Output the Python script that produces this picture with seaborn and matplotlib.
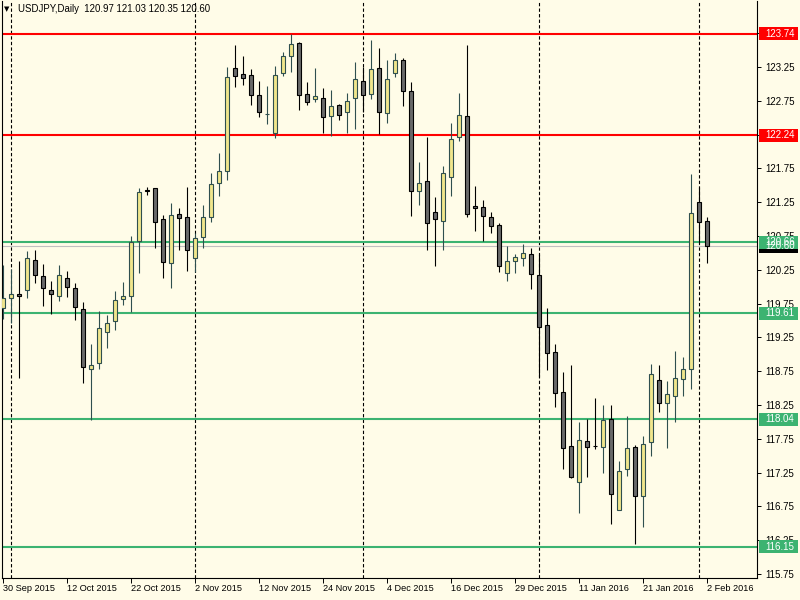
import pandas as pd
import matplotlib.pyplot as plt
import matplotlib.transforms as mtransforms
from matplotlib.patches import Rectangle
import seaborn as sns

# USDJPY daily candles (bar 0 = 30 Sep 2015)
opens = [119.68, 119.83, 119.89, 119.95, 120.39, 120.16, 119.95, 119.87, 120.13, 119.98,
         119.67, 118.79, 118.87, 119.33, 119.49, 119.82, 119.87, 120.67, 121.43, 121.46,
         121.00, 120.35, 121.07, 121.03, 120.43, 120.73, 121.03, 121.53, 121.72, 123.23,
         123.15, 123.13, 122.83, 122.55, 122.27, 123.16, 123.42, 123.60, 122.85, 122.78,
         122.80, 122.53, 122.69, 122.59, 122.79, 123.04, 122.85, 123.23, 122.57, 123.17,
         123.35, 122.90, 121.42, 121.56, 121.10, 120.98, 121.62, 122.21, 122.52, 121.19,
         121.18, 121.03, 120.91, 120.20, 120.38, 120.42, 120.48, 120.17, 119.43, 119.03,
         118.45, 117.64, 117.11, 117.72, 117.65, 117.63, 118.04, 116.69, 117.31, 117.63,
         116.91, 117.71, 118.62, 118.28, 118.39, 118.64, 118.78, 121.25, 120.97]
highs = [120.32, 120.26, 120.38, 120.53, 120.54, 120.34, 120.08, 120.32, 120.24, 120.05,
         119.78, 119.15, 119.64, 119.58, 119.94, 120.07, 120.75, 121.46, 121.47, 121.46,
         121.06, 121.24, 121.16, 121.47, 120.79, 121.21, 121.69, 121.98, 123.25, 123.58,
         123.41, 123.22, 123.04, 122.97, 123.26, 123.48, 123.74, 123.62, 123.03, 123.23,
         122.94, 122.91, 122.71, 122.87, 123.33, 123.25, 123.65, 123.54, 123.36, 123.46,
         123.38, 123.03, 121.84, 122.22, 121.33, 121.78, 122.42, 122.86, 123.57, 121.49,
         121.28, 121.11, 120.95, 120.60, 120.49, 120.63, 120.57, 120.49, 119.69, 119.15,
         118.74, 118.84, 118.00, 118.04, 118.35, 118.25, 118.25, 117.42, 118.09, 117.66,
         117.79, 118.86, 118.84, 118.61, 119.05, 118.96, 121.67, 121.48, 121.03]
lows = [119.53, 119.47, 118.65, 119.83, 120.06, 119.71, 119.59, 119.79, 119.85, 119.51,
        118.58, 118.03, 118.79, 119.10, 119.36, 119.73, 119.63, 120.20, 121.36, 120.58,
        120.13, 119.98, 120.54, 120.24, 120.22, 120.57, 120.96, 121.35, 121.58, 122.95,
        122.99, 122.69, 122.51, 122.41, 122.20, 123.12, 123.18, 122.61, 122.69, 122.74,
        122.27, 122.23, 122.46, 122.27, 122.33, 122.58, 122.78, 122.26, 122.43, 123.11,
        122.67, 121.05, 121.21, 120.54, 120.31, 120.55, 121.35, 122.16, 121.03, 120.82,
        120.68, 120.79, 120.22, 120.09, 120.21, 120.31, 119.97, 118.67, 118.77, 118.22,
        117.30, 117.17, 116.66, 117.19, 117.60, 117.25, 116.49, 116.69, 117.20, 116.19,
        116.44, 117.50, 118.14, 117.62, 118.00, 118.39, 118.49, 120.65, 120.35]
closes = [119.84, 119.89, 119.86, 120.42, 120.17, 119.98, 119.90, 120.17, 119.99, 119.70,
          118.81, 118.84, 119.39, 119.46, 119.80, 119.86, 120.66, 121.40, 121.42, 120.96,
          120.36, 121.06, 121.01, 120.55, 120.72, 121.03, 121.52, 121.71, 123.10, 123.12,
          123.09, 122.83, 122.58, 122.56, 123.13, 123.41, 123.59, 122.83, 122.74, 122.82,
          122.51, 122.67, 122.54, 122.75, 123.07, 122.83, 123.22, 122.58, 123.07, 123.35,
          122.90, 121.41, 121.53, 120.94, 121.00, 121.68, 122.19, 122.54, 121.07, 121.16,
          121.04, 120.90, 120.31, 120.38, 120.44, 120.50, 120.19, 119.41, 119.02, 118.43,
          117.62, 117.18, 117.73, 117.63, 117.64, 118.03, 116.94, 117.28, 117.61, 116.91,
          117.68, 118.71, 118.28, 118.41, 118.65, 118.79, 121.09, 120.96, 120.60]

date_labels = ["30 Sep 2015", "12 Oct 2015", "22 Oct 2015", "2 Nov 2015", "12 Nov 2015",
               "24 Nov 2015", "4 Dec 2015", "16 Dec 2015", "29 Dec 2015", "11 Jan 2016",
               "21 Jan 2016", "2 Feb 2016"]
date_positions = [0, 8, 16, 24, 32, 40, 48, 56, 64, 72, 80, 88]
month_starts = [1, 24, 45, 67, 87]

y_ticks = [115.75, 116.25, 116.75, 117.25, 117.75, 118.25, 118.75, 119.25, 119.75,
           120.25, 120.75, 121.25, 121.75, 122.25, 122.75, 123.25, 123.75]
red_levels = [123.74, 122.24]
green_levels = [120.66, 119.61, 118.04, 116.15]
bid_price = 120.60
title_text = "USDJPY,Daily  120.97 121.03 120.35 120.60"

BG = "#FFFCE8"
BULL_FILL, BULL_EDGE = "#F0E68C", "#2F4F4F"
BEAR_FILL, BEAR_EDGE = "#696969", "#000000"
RED, GREEN = "#FF0000", "#3CB371"

df = pd.DataFrame({"open": opens, "high": highs, "low": lows, "close": closes})
df["bar"] = range(len(df))
df["up"] = df["close"] > df["open"]

sns.set_theme(style="white")
plt.rcParams['font.family'] = ['Liberation Sans', 'DejaVu Sans']

fig = plt.figure(figsize=(8, 6), dpi=100, facecolor=BG)
ax = fig.add_axes([2 / 800, 22 / 600, 755 / 800, 577 / 600], facecolor=BG)

# month separators
for m in month_starts:
    ax.axvline(m, color="black", linewidth=0.8, linestyle=(0, (3, 2)), zorder=1)

# support / resistance lines
for lv in red_levels:
    ax.axhline(lv, color=RED, linewidth=1.5, zorder=2)
for lv in green_levels:
    ax.axhline(lv, color=GREEN, linewidth=1.5, zorder=2)
ax.axhline(bid_price, color="#C0C0C0", linewidth=0.8, zorder=2)

# candles
for up, grp in df.groupby("up"):
    edge = BULL_EDGE if up else BEAR_EDGE
    fill = BULL_FILL if up else BEAR_FILL
    ax.vlines(grp["bar"], grp["low"], grp["high"], colors=edge, linewidth=0.8, zorder=3)
    body_lo = grp[["open", "close"]].min(axis=1)
    body_h = (grp["close"] - grp["open"]).abs()
    ax.bar(grp["bar"], body_h, bottom=body_lo, width=0.5, color=fill,
           edgecolor=edge, linewidth=0.8, zorder=4)

ax.set_xlim(-0.1625, 94.21)
ax.set_ylim(115.691, 124.228)

ax.yaxis.tick_right()
ax.set_yticks(y_ticks)
ax.set_yticklabels([f"{t:.2f}" for t in y_ticks])
ax.tick_params(axis="y", direction="out", length=3, width=0.7, pad=3,
               labelsize=7, colors="black", right=True, left=False)
ax.set_xticks(date_positions)
ax.set_xticklabels(date_labels, ha="left")
ax.tick_params(axis="x", direction="out", length=3.5, width=0.7, pad=1,
               labelsize=6.6, colors="black", bottom=True)
for lab in ax.get_xticklabels():
    lab.set_horizontalalignment("left")

for side in ["left", "right", "bottom"]:
    ax.spines[side].set_color("black")
    ax.spines[side].set_linewidth(0.8)
ax.spines["top"].set_visible(False)
ax.grid(False)

# price labels on the right scale
trans = mtransforms.blended_transform_factory(ax.transAxes, ax.transData)
box_h = 13 / 67.59
x0 = (759 - 2) / 755
box_w = 39 / 755


def price_tag(price, color):
    ax.add_patch(Rectangle((x0, price - box_h / 2), box_w, box_h, transform=trans,
                           facecolor=color, edgecolor="none", clip_on=False, zorder=10))
    ax.text((765 - 2) / 755, price, f"{price:.2f}", transform=trans, color="white",
            fontsize=7, ha="left", va="center", clip_on=False, zorder=11)


price_tag(bid_price, "black")
for lv in red_levels:
    price_tag(lv, RED)
for lv in green_levels:
    price_tag(lv, GREEN)

fig.text(4 / 800, 1 - 9 / 600, "\u25bc", fontsize=5, color="black", va="center", ha="left",
         family=["DejaVu Sans"])
fig.text(18 / 800, 1 - 9 / 600, title_text, fontsize=6.9, color="black", va="center", ha="left")

fig.savefig("out.png", dpi=100, facecolor=BG)
